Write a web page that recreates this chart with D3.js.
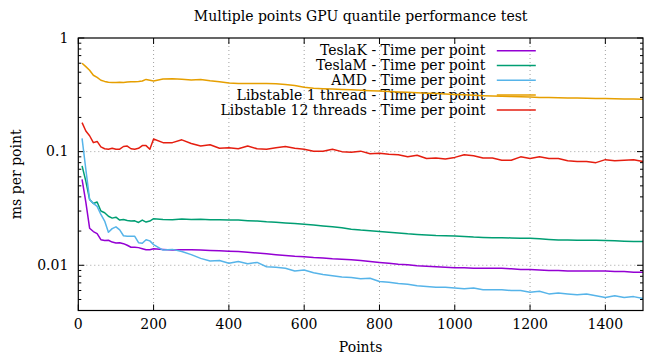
<!DOCTYPE html>
<html>
<head>
<meta charset="utf-8">
<script src="https://cdn.jsdelivr.net/npm/d3@7"></script>
<style>
  body { margin: 0; background: #fff; }
</style>
</head>
<body>
<svg id="chart"></svg>
<script>
(function () {

// Points tested (x values shared by all series)
const points = [10, 20, 30, 40, 50, 60, 70, 80, 90, 100, 110, 120, 130, 140, 150, 160, 170, 180, 190, 200,
    225, 250, 275, 300, 325, 350, 375, 400, 425, 450, 475, 500, 525, 550, 575, 600, 625, 650, 675, 700,
    725, 750, 775, 800, 825, 850, 875, 900, 925, 950, 975, 1000, 1025, 1050, 1075, 1100, 1125, 1150, 1175, 1200,
    1225, 1250, 1275, 1300, 1325, 1350, 1375, 1400, 1425, 1450, 1475, 1500];

// ms per point
const teslaK = [0.057, 0.036, 0.0212, 0.0198, 0.019, 0.0168, 0.0165, 0.0166, 0.016, 0.0157, 0.0158, 0.0155, 0.015, 0.0144, 0.0144, 0.0143, 0.014, 0.0137, 0.0137, 0.014,
    0.0138, 0.0136, 0.0137, 0.0137, 0.0136, 0.0135, 0.0134, 0.0133, 0.0132, 0.013, 0.0128, 0.0126, 0.0124, 0.0122, 0.012, 0.0119, 0.0117, 0.0116, 0.0114, 0.0113,
    0.0112, 0.011, 0.0108, 0.0106, 0.0104, 0.0102, 0.0101, 0.0099, 0.0098, 0.0097, 0.0096, 0.0095, 0.0095, 0.0094, 0.0094, 0.0094, 0.0094, 0.0093, 0.0092, 0.0092,
    0.0091, 0.009, 0.009, 0.0089, 0.0089, 0.0089, 0.0089, 0.0089, 0.0088, 0.0088, 0.0087, 0.0087];

const teslaM = [0.075, 0.055, 0.038, 0.035, 0.036, 0.03, 0.029, 0.027, 0.026, 0.0265, 0.025, 0.0253, 0.0248, 0.0245, 0.0246, 0.0238, 0.025, 0.024, 0.0245, 0.0257,
    0.0253, 0.0252, 0.0255, 0.0253, 0.0254, 0.0252, 0.0252, 0.025, 0.025, 0.0247, 0.0245, 0.0241, 0.0239, 0.0236, 0.0233, 0.023, 0.0226, 0.0222, 0.0218, 0.0214,
    0.0208, 0.0204, 0.0201, 0.0198, 0.0195, 0.0192, 0.0189, 0.0187, 0.0185, 0.0183, 0.0182, 0.0181, 0.0179, 0.0177, 0.0176, 0.0175, 0.0175, 0.0174, 0.0173, 0.0173,
    0.0171, 0.0169, 0.0167, 0.0167, 0.0166, 0.0166, 0.0166, 0.0165, 0.0164, 0.0163, 0.0162, 0.0162];

const amd = [0.131, 0.07, 0.038, 0.035, 0.033, 0.028, 0.0245, 0.0195, 0.021, 0.0218, 0.0205, 0.0182, 0.018, 0.018, 0.018, 0.0158, 0.0156, 0.0168, 0.0164, 0.0152,
    0.0136, 0.0138, 0.0132, 0.0124, 0.0115, 0.0109, 0.011, 0.0104, 0.0108, 0.0103, 0.0106, 0.0097, 0.0096, 0.0094, 0.0089, 0.0091, 0.0086, 0.0083, 0.0081, 0.0079,
    0.0078, 0.0076, 0.0077, 0.0072, 0.0071, 0.0069, 0.0068, 0.0066, 0.0065, 0.0064, 0.0064, 0.0063, 0.0062, 0.0063, 0.0061, 0.0061, 0.0061, 0.006, 0.006, 0.0058,
    0.0059, 0.0056, 0.0057, 0.0056, 0.0055, 0.0056, 0.0054, 0.0052, 0.0054, 0.0052, 0.0053, 0.0051];

const lib1 = [0.60, 0.56, 0.52, 0.47, 0.45, 0.425, 0.415, 0.408, 0.405, 0.405, 0.407, 0.406, 0.41, 0.412, 0.412, 0.414, 0.418, 0.432, 0.425, 0.418,
    0.436, 0.438, 0.434, 0.428, 0.432, 0.42, 0.412, 0.402, 0.398, 0.397, 0.398, 0.397, 0.396, 0.39, 0.382, 0.368, 0.362, 0.358, 0.355, 0.352,
    0.35, 0.347, 0.344, 0.341, 0.338, 0.335, 0.333, 0.33, 0.327, 0.324, 0.322, 0.319, 0.316, 0.314, 0.311, 0.309, 0.307, 0.305, 0.304, 0.302,
    0.3, 0.299, 0.298, 0.297, 0.296, 0.295, 0.294, 0.293, 0.292, 0.291, 0.29, 0.289];

const lib12 = [0.18, 0.152, 0.138, 0.12, 0.123, 0.11, 0.106, 0.105, 0.107, 0.105, 0.105, 0.111, 0.112, 0.106, 0.105, 0.107, 0.113, 0.113, 0.105, 0.129,
    0.12, 0.12, 0.127, 0.118, 0.112, 0.115, 0.107, 0.108, 0.106, 0.112, 0.106, 0.105, 0.108, 0.111, 0.107, 0.105, 0.101, 0.101, 0.105, 0.1,
    0.099, 0.101, 0.096, 0.097, 0.095, 0.094, 0.09, 0.093, 0.087, 0.088, 0.086, 0.089, 0.094, 0.092, 0.088, 0.088, 0.084, 0.084, 0.09, 0.087,
    0.09, 0.087, 0.087, 0.083, 0.082, 0.082, 0.08, 0.085, 0.083, 0.084, 0.085, 0.082];

const seriesNames = ["TeslaK - Time per point", "TeslaM - Time per point", "AMD - Time per point",
    "Libstable 1 thread - Time per point", "Libstable 12 threads - Time per point"];
const seriesValues = [teslaK, teslaM, amd, lib1, lib12];
const seriesColors = ["#9400d3", "#009e73", "#56b4e9", "#e69f00", "#e51e10"];

const xTicks = [0, 200, 400, 600, 800, 1000, 1200, 1400];
const yTicks = [0.01, 0.1, 1];
const yTickLabels = ["0.01", "0.1", "1"];

const W = 645, H = 354;
const margin = {top: 38, right: 2, bottom: 43.5, left: 78.3},
    width = W - margin.left - margin.right,
    height = H - margin.top - margin.bottom;

const root = d3.select("#chart").attr("width", W).attr("height", H)
    .attr("font-family", "'DejaVu Serif', serif");
const svg = root.append("g").attr("transform", `translate(${margin.left},${margin.top})`);

const x = d3.scaleLinear().domain([0, 1500]).range([0, width]);
const y = d3.scaleLog().domain([0.004, 1]).range([height, 0]);

const fs = "14px";

// grid
svg.append("g").selectAll("line")
    .data(xTicks.filter(d => d > 0))
    .enter().append("line")
    .attr("x1", d => x(d)).attr("x2", d => x(d))
    .attr("y1", 0).attr("y2", height)
    .attr("stroke", "#a0a0a0").attr("stroke-width", 1).attr("stroke-dasharray", "1,3");
svg.append("g").selectAll("line")
    .data(yTicks.filter(d => d < 1))
    .enter().append("line")
    .attr("x1", 0).attr("x2", width)
    .attr("y1", d => y(d)).attr("y2", d => y(d))
    .attr("stroke", "#a0a0a0").attr("stroke-width", 1).attr("stroke-dasharray", "1,3");

// ticks (inward, mirrored)
const minor = [];
[0.001, 0.01, 0.1].forEach(dec => { for (let k = 2; k <= 9; k++) { const v = dec * k; if (v >= 0.004 && v < 1) minor.push(v); } });
const tk = svg.append("g").attr("stroke", "#000").attr("stroke-width", 1);
xTicks.forEach(d => {
    tk.append("line").attr("x1", x(d)).attr("x2", x(d)).attr("y1", height).attr("y2", height - 6);
    tk.append("line").attr("x1", x(d)).attr("x2", x(d)).attr("y1", 0).attr("y2", 6);
});
yTicks.forEach(d => {
    tk.append("line").attr("x1", 0).attr("x2", 6).attr("y1", y(d)).attr("y2", y(d));
    tk.append("line").attr("x1", width).attr("x2", width - 6).attr("y1", y(d)).attr("y2", y(d));
});
minor.forEach(d => {
    tk.append("line").attr("x1", 0).attr("x2", 3).attr("y1", y(d)).attr("y2", y(d));
    tk.append("line").attr("x1", width).attr("x2", width - 3).attr("y1", y(d)).attr("y2", y(d));
});

// tick labels
svg.append("g").selectAll("text")
    .data(xTicks)
    .enter().append("text")
    .attr("x", d => x(d)).attr("y", height + 18)
    .attr("text-anchor", "middle").style("font-size", fs)
    .text(d => d);
svg.append("g").selectAll("text")
    .data(yTicks)
    .enter().append("text")
    .attr("x", -10).attr("y", d => y(d)).attr("dy", "0.33em")
    .attr("text-anchor", "end").style("font-size", fs)
    .text((d, i) => yTickLabels[i]);

// axis titles
svg.append("text")
    .attr("x", width / 2).attr("y", height + 41)
    .attr("text-anchor", "middle").style("font-size", fs)
    .text("Points");
svg.append("text")
    .attr("transform", `translate(${-57},${height / 2}) rotate(-90)`)
    .attr("text-anchor", "middle").style("font-size", fs)
    .text("ms per point");
root.append("text")
    .attr("x", margin.left + width / 2).attr("y", 21)
    .attr("text-anchor", "middle").style("font-size", fs)
    .text("Multiple points GPU quantile performance test");

// legend
const legend = svg.append("g").attr("transform", "translate(0,12.7)");
seriesNames.forEach((name, i) => {
    legend.append("text")
        .attr("x", 407).attr("y", i * 14.8).attr("dy", "0.33em")
        .attr("text-anchor", "end").style("font-size", fs)
        .text(name);
    legend.append("line")
        .attr("x1", 418.5).attr("x2", 457.5)
        .attr("y1", i * 14.8).attr("y2", i * 14.8)
        .attr("stroke", seriesColors[i]).attr("stroke-width", 1.5);
});

// lines
const line = d3.line().x(d => x(d[0])).y(d => y(d[1]));
seriesValues.forEach((vals, i) => {
    svg.append("path")
        .datum(points.map((p, j) => [p, vals[j]]))
        .attr("fill", "none")
        .attr("stroke", seriesColors[i])
        .attr("stroke-width", 1.5)
        .attr("stroke-linejoin", "round")
        .attr("d", line);
});

// border
svg.append("rect")
    .attr("width", width).attr("height", height)
    .attr("fill", "none").attr("stroke", "#000").attr("stroke-width", 1.2);

})();
</script>
</body>
</html>
